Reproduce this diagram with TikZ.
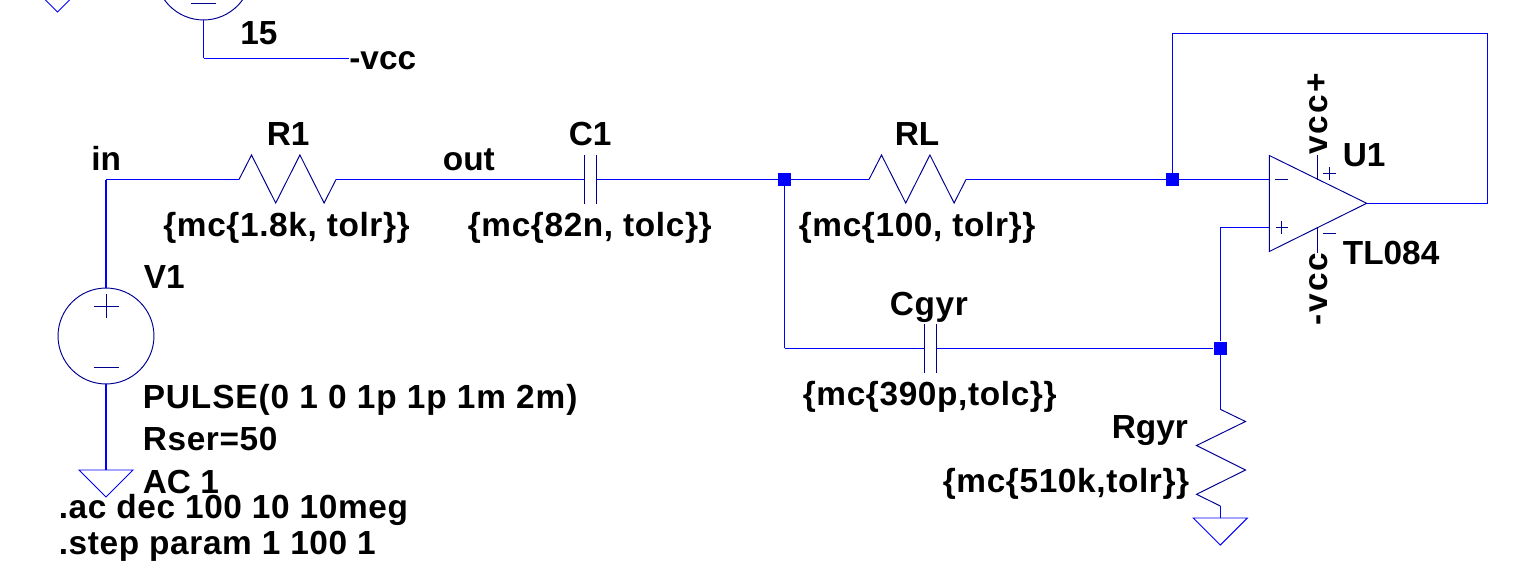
\documentclass[tikz,border=0pt]{standalone}
\usepackage{fontspec}
\setmainfont{Liberation Sans}
\newfontfamily\widefont[LetterSpace=1.9]{Liberation Sans}
\newfontfamily\tallfont[LetterSpace=6]{Liberation Sans}
\definecolor{wirecol}{RGB}{0,0,255}
\definecolor{symcol}{RGB}{0,0,144}
\begin{document}
\begin{tikzpicture}
  [x=.02cm,y=-.02cm,
   wire/.style={draw=wirecol,line width=.75pt},
   sym/.style={draw=symcol,line width=.55pt},
   txt/.style={anchor=base west,inner sep=0pt,font=\fontsize{19}{19}\selectfont\bfseries},
   wtxt/.style={txt,font=\fontsize{19}{19}\widefont\bfseries},
   vtxt/.style={txt,font=\fontsize{19}{19}\tallfont\bfseries,rotate=90},
   source/.style={circle,sym,minimum size=54.6pt,inner sep=0pt,outer sep=0pt},
   dot/.style={rectangle,fill=wirecol,minimum size=7.4pt,inner sep=0pt}]
  \path[use as bounding box,clip] (0,0) rectangle (1523,571);
  % junctions and pins
  \coordinate (cin) at (106,179.5);
  \coordinate (r1a) at (239,179.5);
  \coordinate (r1b) at (336,179.5);
  \coordinate (c1a) at (584.3,179.5);
  \coordinate (c1b) at (596.3,179.5);
  \coordinate (rla) at (869,179.5);
  \coordinate (rlb) at (966,179.5);
  \coordinate (uneg) at (1269.3,179.5);
  \coordinate (upos) at (1269.3,227.5);
  \coordinate (uout) at (1366.7,203.3);
  \coordinate (fba) at (1172.5,33.3);
  \coordinate (fbb) at (1487.7,33.3);
  \coordinate (fbc) at (1487.7,203.3);
  \coordinate (bend) at (1220.3,227.5);
  \coordinate (cga) at (924.3,348.3);
  \coordinate (cgb) at (936,348.3);
  \coordinate (gbend) at (784.5,348.3);
  \coordinate (rga) at (1220.3,409.3);
  \coordinate (rgb) at (1220.3,506);
  \coordinate (gnda) at (106,470);
  \coordinate (gndb) at (1220.3,518);
  \coordinate (vbend) at (203.5,58.5);
  \coordinate (vend) at (349,58.5);
  \coordinate (gndc) at (57.5,-15);
  \node[dot] (j1) at (784.5,179.5) {};
  \node[dot] (j2) at (1172.5,179.5) {};
  \node[dot] (j3) at (1220.3,348.3) {};
  \node[source] (v1) at (106,336) {};
  \node[source] (v2) at (203.5,-28) {};
  % wires
  \foreach \source/\dest in {cin/r1a,r1b/c1a,c1b/j1,j1/rla,rlb/j2,j2/uneg,j2/fba,fba/fbb,fbb/fbc,fbc/uout,
    upos/bend,bend/j3,j1/gbend,gbend/cga,cgb/j3,j3/rga,rgb/gndb,cin/v1,v1/gnda,v2/vbend,vbend/vend}
    \draw[wire] (\source) -- (\dest);
  % resistors
  \foreach \res in {r1,rl}
    \draw[sym] (\res a) -- ++(12.5,-24.5) -- ++(24.2,48) -- ++(24.2,-48) -- ++(24.2,48) -- (\res b);
  \draw[sym] (rga) -- ++(25.2,12.2) -- ++(-49,24) -- ++(49,24.5) -- ++(-49,24.3) -- (rgb);
  % capacitors
  \foreach \plate in {c1a,c1b,cga,cgb}
    \draw[sym] (\plate) ++(0,-24.5) -- ++(0,49);
  % grounds
  \foreach \gnd in {gnda,gndb,gndc}
    \draw[sym,draw=wirecol] (\gnd) ++(-27,0) -- ++(54,0) -- ++(-27,27) -- cycle;
  % opamp
  \draw[sym] (1269.3,155.5) -- (uout) -- (1269.3,251.5) -- cycle;
  \draw[sym] (1317.7,155) -- (1317.7,179.5);
  \draw[sym] (1317.7,227.5) -- (1317.7,252.7);
  \draw[sym] (1275,179.5) -- (1288,179.5);
  \draw[sym] (1275.5,227.5) -- (1288,227.5) (1281.7,221) -- (1281.7,234);
  \draw[sym] (1323,173.3) -- (1335.5,173.3) (1329.3,167) -- (1329.3,179.5);
  \draw[sym] (1323,233) -- (1336,233);
  % source signs
  \draw[sym] (94,306) -- (119,306) (106,294) -- (106,318);
  \draw[sym] (94,367) -- (119,367);
  \draw[sym] (191,3) -- (216,3);
  % text
  \node[txt] (t15) at (240,44.5) {15};
  \node[txt] (tvee) at (349,70) {-vcc};
  \node[txt] (tin) at (91,170) {in};
  \node[txt] (tout) at (442.5,170) {out};
  \node[txt] (tr1) at (266.5,145) {R1};
  \node[txt] (tc1) at (568.5,145) {C1};
  \node[txt] (trl) at (894.5,145) {RL};
  \node[wtxt] (vr1) at (163,236) {\{mc\{1.8k, tolr\}\}};
  \node[wtxt] (vc1) at (467.5,236) {\{mc\{82n, tolc\}\}};
  \node[wtxt] (vrl) at (798.5,236) {\{mc\{100, tolr\}\}};
  \node[txt] (tu1) at (1342.5,166.7) {U1};
  \node[txt] (tu2) at (1342.5,264) {TL084};
  \node[vtxt] (tvp) at (1327,155) {vcc+};
  \node[vtxt] (tvm) at (1327,326) {-vcc};
  \node[txt] (tv1) at (143.5,288) {V1};
  \node[wtxt] (tp1) at (142.5,408) {\addfontfeature{LetterSpace=2.7}PULSE(0 1 0 1p 1p 1m 2m)};
  \node[wtxt] (tp2) at (142.5,450) {Rser=50};
  \node[txt] (tp3) at (142.5,493) {AC 1};
  \node[wtxt] (tac) at (58.5,518) {.ac dec 100 10 10meg};
  \node[wtxt] (tst) at (58.5,554) {.step param 1 100 1};
  \node[wtxt] (tcg) at (889.5,315) {Cgyr};
  \node[wtxt] (vcg) at (802.5,405) {\{mc\{390p,tolc\}\}};
  \node[txt] (trg) at (1111.5,438) {Rgyr};
  \node[wtxt] (vrg) at (942.5,492) {\{mc\{510k,tolr\}\}};
\end{tikzpicture}
\end{document}
